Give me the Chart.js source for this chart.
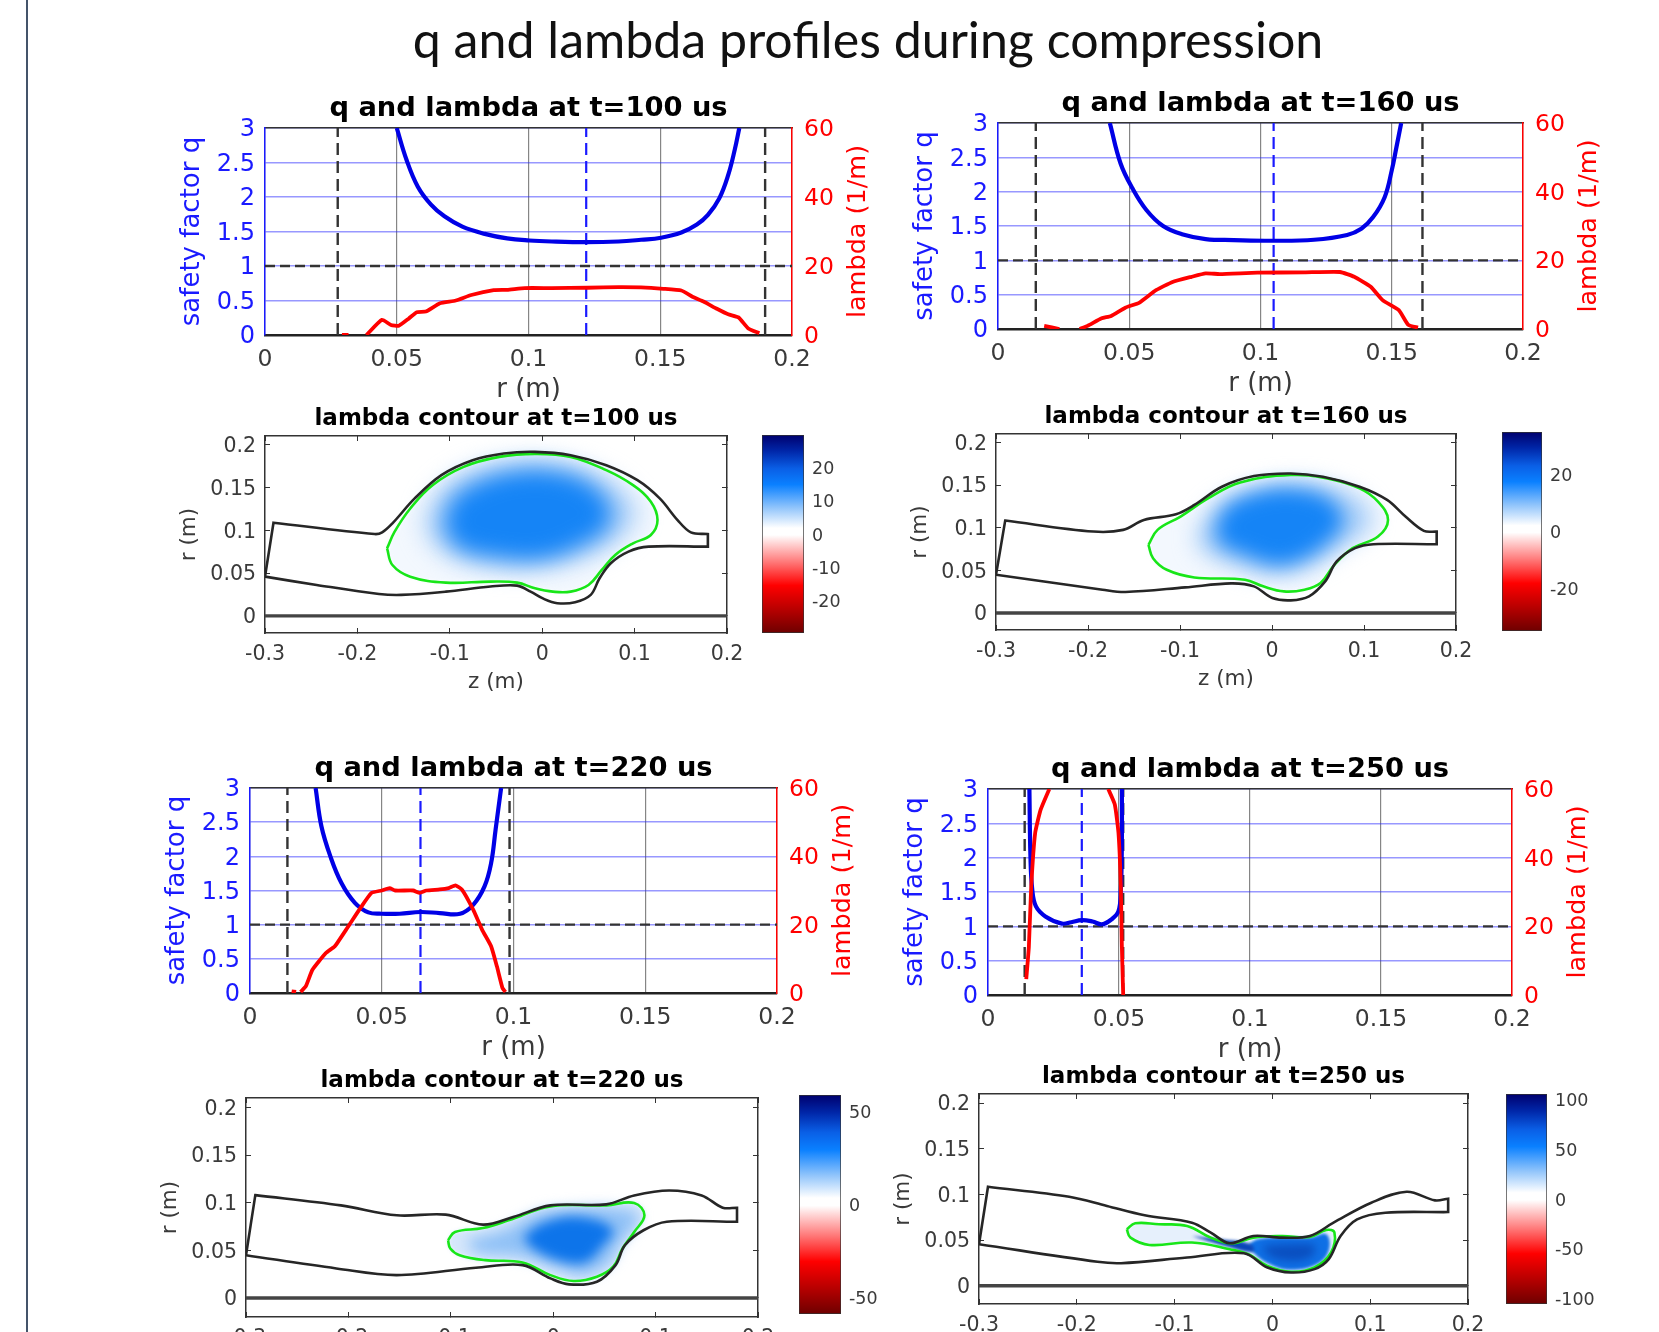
<!DOCTYPE html>
<html>
<head>
<meta charset="utf-8">
<title>q and lambda profiles during compression</title>
<script src="https://cdn.jsdelivr.net/npm/chart.js@4"></script>
<style>
html,body{margin:0;padding:0;background:#fff;width:1659px;height:1332px;overflow:hidden;position:relative}
#rule{position:absolute;left:26px;top:0;width:2px;height:1332px;background:#44546a}
#main{position:absolute;left:0;width:1736px;top:9px;text-align:center;font:50.1px Lato,sans-serif;color:#111;line-height:60px}
canvas{position:absolute;filter:blur(.45px)}
</style>
</head>
<body>
<div id="rule"></div>
<div id="main">q and lambda profiles during compression</div>
<script>
// ---------- tick labels ----------
const rTicks=[0,0.05,0.1,0.15,0.2];
const qTicks=[0,0.5,1,1.5,2,2.5,3];
const lamTicks=[0,20,40,60];
const zTicks=[-0.3,-0.2,-0.1,0,0.1,0.2];
const rzTicks=[0,0.05,0.1,0.15,0.2];
const cbTicks100=[20,10,0,-10,-20];
const cbTicks160=[20,0,-20];
const cbTicks220=[50,0,-50];
const cbTicks250=[100,50,0,-50,-100];
const cbMax100=29.6, cbMax160=35, cbMax220=58.8, cbMax250=106;
const qReference=1;

// ---------- t = 100 us profiles ----------
const qR100=[.05,.0537,.058,.063,.0681,.0749,.0834,.0919,.1003,.1088,.1219,.1342,.1427,.1503,.158,.1639,.1681,.1724,.1758,.1783,.18];
const qV100=[3,2.54,2.15,1.89,1.72,1.57,1.466,1.40,1.37,1.355,1.345,1.355,1.38,1.41,1.485,1.6,1.74,1.98,2.32,2.69,3];
const lamR100=[.0292,.0317,.035,.0385,.0444,.0478,.0508,.0546,.0576,.061,.0664,.0724,.0783,.0868,.0919,.0986,.1088,.1224,.1342,.1427,.1512,.158,.1622,.1664,.1715,.1758,.1797,.1834,.1876];
const lamV100=[0,0,null,0,4.4,2.9,2.7,4.8,6.6,6.8,9.2,10,11.6,13,13.1,13.6,13.6,13.7,13.9,13.8,13.4,12.9,11.1,9.7,7.6,6,5.1,1.9,.5];
const edges100=[.0276,.1898]; const axis100=.1219;
// ---------- t = 160 us profiles ----------
const qR160=[.0426,.0467,.0512,.0566,.0629,.0701,.0791,.0898,.105,.1204,.133,.1384,.1429,.1473,.15,.1518,.1536];
const qV160=[3,2.41,2.05,1.73,1.5,1.38,1.31,1.295,1.285,1.30,1.37,1.46,1.63,1.92,2.31,2.65,3];
const lamR160=[.0176,.0234,.027,.0311,.0341,.0395,.0431,.0485,.0539,.0602,.0665,.0737,.0791,.0845,.0988,.1168,.1303,.1357,.142,.1465,.1527,.1563,.16];
const lamV160=[.9,0,null,0,.9,3.1,3.8,6.2,7.7,11.3,13.7,15.2,16.2,16,16.4,16.5,16.6,15.2,12.3,8.4,5.5,1.2,.4];
const edges160=[.0144,.1617]; const axis160=.105;
// ---------- t = 220 us profiles ----------
const qR220=[.0249,.0271,.0305,.0347,.0398,.0449,.05,.0568,.0647,.072,.0797,.0847,.089,.0915,.0932,.0953];
const qV220=[3,2.44,2,1.61,1.32,1.18,1.16,1.16,1.185,1.17,1.16,1.29,1.56,1.9,2.39,3];
const lamR220=[.0158,.0175,.0183,.0192,.0212,.0237,.0288,.0322,.0373,.0415,.0461,.05,.053,.0551,.0619,.0644,.0669,.072,.0754,.078,.0805,.0847,.0881,.0915,.0937,.0958,.0969];
const lamV220=[.5,.3,null,.3,2,6.8,11.7,13.7,19.5,24.4,29.3,30,30.7,30,30,29.3,30,30.3,30.7,31.5,30.2,24.4,18.5,13.7,7.8,1.5,.3];
const edges220=[.0142,.0985]; const axis220=.0647;
// ---------- t = 250 us profiles ----------
const qR250=[.0158,.0162,.0169,.0183,.0219,.0282,.0318,.0358,.0399,.0435,.0471,.0498,.0507,.0511,.0511];
const qV250=[3,2.02,1.53,1.29,1.145,1.04,1.06,1.09,1.07,1.03,1.1,1.22,1.53,2.26,3];
const lamR250=[.0146,.0156,.0165,.018,.0201,.0234,.035,.0459,.0484,.0498,.0507,.0511,.0516];
const lamV250=[4.6,14.1,31.6,47.2,54,60,null,60,55.5,47.2,31.6,14,0];
const edges250=[.014,.0516]; const axis250=.0358;

// ---------- t = 100 us contour ----------
const wallZ100=[-.3,-.2908,-.1814,-.1732,-.1621,-.138,-.1091,-.0753,-.0416,-.0078,.0308,.0693,.1031,.1272,.1465,.1609,.1793,.1793,.1151,.0934,.0742,.0621,.0525,.0356,.0163,.0018,-.0126,-.0271,-.056,-.1042,-.1525,-.1766,-.2441];
const wallR100=[.0458,.1087,.0955,.0975,.108,.1371,.1643,.1817,.1895,.1915,.1876,.1759,.1584,.1371,.1118,.0975,.0955,.0808,.0808,.075,.0614,.0439,.0245,.0159,.0148,.0198,.0283,.0353,.0342,.0283,.0245,.0256,.0361];
const sepZ100=[-.1679,-.1597,-.1428,-.1187,-.085,-.0464,-.0078,.0308,.0693,.0983,.1176,.1248,.1176,.0983,.079,.0645,.0501,.0308,.0115,-.0078,-.0271,-.056,-.1042,-.1428,-.1621];
const sepR100=[.0788,.0983,.1254,.1526,.174,.1856,.1891,.1856,.1701,.1526,.1332,.1118,.0944,.0847,.0711,.0536,.0361,.0283,.0283,.0322,.0388,.04,.0388,.0458,.0594];
const midZ100=[-.1285,-.1179,-.087,-.0367,.0115,.052,.0878,.1023,.083,.052,.0018,-.056,-.1082];
const midR100=[.1021,.1352,.1644,.1799,.1799,.1683,.145,.1177,.0904,.071,.0573,.0573,.0748];
const coreZ100=[-.1062,-.0966,-.0677,-.0271,.0115,.0472,.0713,.0713,.0472,.0018,-.0512,-.0918];
const coreR100=[.106,.1352,.1566,.1683,.1683,.1566,.1313,.1059,.0855,.067,.0689,.0806];
// ---------- t = 160 us contour ----------
const wallZ160=[-.3,-.29,-.1942,-.1618,-.1393,-.1044,-.0844,-.0545,-.0196,.0204,.0553,.0952,.1251,.1451,.1651,.179,.179,.1102,.0902,.0703,.0578,.0403,.0204,.0004,-.0196,-.0445,-.0944,-.1593,-.1842];
const wallR160=[.0448,.1084,.0955,.0975,.1092,.1158,.1267,.1481,.1606,.1637,.1598,.1481,.1326,.1131,.0963,.0955,.0807,.0807,.076,.0604,.037,.0195,.0148,.0175,.0312,.0347,.03,.0246,.0273];
const sepZ160=[-.1343,-.1244,-.0994,-.0695,-.0345,.0204,.0603,.0952,.1152,.1261,.1152,.0877,.0678,.0528,.0353,.0129,-.0096,-.0295,-.0844,-.1144,-.1293];
const sepR160=[.0799,.0975,.1131,.1345,.1532,.1618,.1579,.1462,.1306,.1092,.0897,.076,.0565,.0351,.0273,.0253,.0312,.039,.0417,.0507,.0643];
const midZ160=[-.0844,-.0645,-.0246,.0204,.0703,.1052,.1052,.0802,.0453,.0054,-.0445,-.0745];
const midR160=[.0877,.1228,.1442,.1532,.1462,.1228,.0994,.0799,.0565,.0448,.0565,.0721];
const coreZ160=[-.0615,-.049,-.0146,.0253,.0623,.0772,.0623,.0353,.0054,-.0295,-.0565];
const coreR160=[.0994,.1248,.1414,.1453,.1336,.1072,.0847,.0642,.0564,.0681,.0818];
// ---------- t = 220 us contour ----------
const wallZ220=[-.3,-.2909,-.2073,-.1527,-.105,-.0686,-.0391,-.0027,.0518,.0791,.1132,.145,.1655,.1795,.1795,.1109,.0882,.07,.0609,.0427,.0155,-.0027,-.03,-.0755,-.1527,-.2118];
const wallR220=[.0449,.108,.0972,.0868,.0875,.077,.085,.0972,.0983,.1077,.1129,.1077,.0948,.0948,.0801,.0801,.0711,.0554,.0345,.0171,.0143,.0206,.0345,.0317,.024,.031];
const sepZ220=[-.1027,-.0959,-.0686,-.0436,-.0027,.0518,.0791,.0891,.0791,.0677,.0586,.0427,.02,-.0027,-.03,-.0664,-.0914,-.1005];
const sepR220=[.0606,.0693,.0735,.0815,.0962,.0972,.0997,.0868,.0693,.0519,.0328,.0223,.0178,.024,.0373,.0397,.0449,.0519];
const midZ220=[-.0845,-.0482,-.0164,.0155,.0655,.0836,.0655,.0541,.0291,.0064,-.03,-.0755];
const midR220=[.0606,.0711,.0885,.0937,.0937,.085,.0571,.0362,.024,.031,.0432,.0484];
const coreZ220=[-.0295,-.0093,.0245,.0581,.047,.0324,.0109,-.0184];
const coreR220=[.0641,.079,.0853,.0721,.0527,.0377,.0377,.0509];
// ---------- t = 250 us contour ----------
const wallZ250=[-.3,-.2908,-.2078,-.1692,-.1306,-.0823,-.063,-.0437,-.0196,.0094,.0383,.0625,.1011,.1373,.1662,.1797,.1797,.1155,.0866,.0697,.0576,.0431,.019,-.0051,-.0292,-.0872,-.1547,-.1789];
const wallR250=[.0455,.1084,.0975,.0873,.0771,.0691,.0582,.0465,.0545,.0527,.0545,.0691,.0909,.1029,.0935,.0953,.0807,.08,.0727,.0545,.0291,.0182,.0145,.02,.0356,.0309,.0247,.0262];
const sepZ250=[-.1489,-.1403,-.1161,-.0872,-.063,-.0413,-.0196,.0094,.0383,.0552,.0634,.06,.0431,.019,-.0051,-.0244,-.0437,-.0823,-.1258,-.1451];
const sepR250=[.0618,.0684,.0673,.0655,.0527,.0462,.0527,.0545,.0535,.0611,.0582,.0364,.02,.0153,.0218,.0345,.04,.0473,.0447,.0527];
const midZ250=[-.0244,-.0148,.0094,.0383,.0552,.0576,.0456,.019,-.0027,-.0196];
const midR250=[.0455,.0509,.0527,.0527,.0564,.0382,.0236,.0175,.0236,.0364];
const coreZ250=[-.0099,.019,.0431,.0383,.0142,-.0051];
const coreR250=[.0436,.0455,.0436,.0309,.0273,.0345];
const neckZ250=[-.0823,-.0485,-.0196,-.022,-.0534];
const neckR250=[.0545,.0436,.0371,.0455,.0509];
const axisZ=[-.3,.2]; const axisR=[0,0];

// ---------- helpers ----------
Chart.defaults.font.family="'DejaVu Sans',sans-serif";
Chart.defaults.animation=false;
const GREY='#3a3a3a';
function xy(xs,ys){return xs.map((x,i)=>({x:x,y:ys[i]}));}
function loop(xs,ys){const p=xy(xs,ys);p.push(p[0]);return p;}
// closed wall outline: the square corners are repeated so that the spline stays sharp there
function wallLoop(xs,ys){
  const top=Math.max.apply(null,xs),out=[];
  xs.forEach((x,i)=>{const pt={x:x,y:ys[i]};out.push(pt);if(i===1||x===top)out.push(pt);});
  const first={x:xs[0],y:ys[0]};out.push(first,first);out.unshift(first);return out;
}
function canvasAt(l,t,w,h){const c=document.createElement('canvas');c.width=w;c.height=h;c.style.left=l+'px';c.style.top=t+'px';c.style.width=w+'px';c.style.height=h+'px';document.body.appendChild(c);return c;}
function fixW(w){return s=>{s.width=w;s.paddingTop=0;s.paddingBottom=0;s.paddingLeft=0;s.paddingRight=0;};}
function fixH(h){return s=>{s.height=h;s.paddingLeft=0;s.paddingRight=0;s.paddingTop=0;s.paddingBottom=0;};}
function setTicks(v){return s=>{s.ticks=v.map(value=>({value}));};}
const lab=v=>String(v);

const rotatedTitle={id:'rotatedTitle',afterDraw(chart,args,o){
  if(!o.text)return;const c=chart.ctx,a=chart.chartArea;c.save();
  c.translate(a.right+o.offset,(a.top+a.bottom)/2);c.rotate(-Math.PI/2);
  c.font=o.font;c.fillStyle=o.color;c.textAlign='center';c.textBaseline='middle';c.fillText(o.text,0,0);c.restore();}};
const softFill={id:'softFill',
  beforeDatasetsDraw(chart){const d=chart.data.datasets;set(chart,d[d.length-1]);},
  afterDatasetDraw(chart,args){set(chart,chart.data.datasets[args.index-1]);},
  afterDatasetsDraw(chart){chart.ctx.filter='none';}};
function set(chart,ds){chart.ctx.filter=ds&&ds.blur?'blur('+ds.blur+'px)':'none';}

function qPanel(p){
  const L=88,R=88,T=35,B=72,w=p.right-p.left,h=p.bottom-p.top;
  const dash=(xs,ys,col,d,wd)=>({data:xy(xs,ys),borderColor:col,borderWidth:wd,borderDash:d,pointRadius:0,showLine:true,tension:0});
  new Chart(canvasAt(p.left-L,p.top-T,w+L+R,h+T+B),{type:'scatter',
    plugins:[rotatedTitle],
    data:{datasets:[
      {data:xy(p.lamR,p.lamV),yAxisID:'y1',borderColor:'#ff0000',borderWidth:3.8,pointRadius:0,showLine:true,tension:.15,spanGaps:false},
      {data:xy(p.qR,p.qV),borderColor:'#0000e6',borderWidth:4.2,pointRadius:0,showLine:true,tension:.4},
      dash([0,.2],[qReference,qReference],'#333',[10,5],2.4),
      dash([p.edges[0],p.edges[0]],[0,3],'#333',[12,6],2.4),
      dash([p.edges[1],p.edges[1]],[0,3],'#333',[12,6],2.4),
      dash([p.axis,p.axis],[0,3],'#1a1aff',[12,6],2.2)
    ]},
    options:{responsive:false,animation:false,
      layout:{padding:0},
      plugins:{legend:{display:false},tooltip:{enabled:false},
        title:{display:true,text:p.title,color:'#000',font:{size:27.3,weight:'bold',lineHeight:1},padding:{top:2,bottom:5.7}},
        rotatedTitle:{text:'lambda (1/m)',offset:66,font:"25.5px 'DejaVu Sans'",color:'#ff0000'}},
      scales:{
        x:{type:'linear',position:'bottom',min:0,max:.2,afterBuildTicks:setTicks(rTicks),afterFit:fixH(B),
          grid:{color:'#858585',lineWidth:1.2,drawTicks:false},border:{color:'#222',width:2.5},
          ticks:{color:GREY,font:{size:23.5},padding:11,callback:lab,autoSkip:false,maxRotation:0},
          title:{display:true,text:'r (m)',color:GREY,font:{size:26},padding:{top:0,bottom:1}}},
        xTop:{type:'linear',position:'top',min:0,max:.2,afterFit:fixH(0),
          grid:{display:false},border:{color:'#333',width:1.5},ticks:{display:false}},
        y:{type:'linear',position:'left',min:0,max:3,afterBuildTicks:setTicks(qTicks),afterFit:fixW(L),
          grid:{color:'rgba(40,40,255,.48)',lineWidth:1.5,drawTicks:false},border:{color:'#1a1aff',width:1.5},
          ticks:{color:'#1a1aff',font:{size:24},padding:10,labelOffset:2,callback:lab,autoSkip:false},
          title:{display:true,text:'safety factor q',color:'#1a1aff',font:{size:26},padding:0}},
        y1:{type:'linear',position:'right',min:0,max:60,afterBuildTicks:setTicks(lamTicks),afterFit:fixW(R),
          grid:{drawOnChartArea:false,drawTicks:false},border:{color:'#ff0000',width:1.5},
          ticks:{color:'#ff0000',font:{size:23.5},padding:12,labelOffset:2,callback:lab,autoSkip:false}}
      }}});
}

function contourPanel(p){
  const L=88,R=88,T=30,B=62,w=p.right-p.left,h=p.bottom-p.top;
  const line=(pts,col,wd,ten)=>({data:pts,borderColor:col,borderWidth:wd,pointRadius:0,showLine:true,tension:ten});
  const blob=(pts,col,bl)=>({data:pts,backgroundColor:col,borderWidth:0,fill:'shape',blur:bl,pointRadius:0,showLine:true,tension:.4});
  const sets=[line(wallLoop(p.wallZ,p.wallR),'#262626',2.6,.35),line(loop(p.sepZ,p.sepR),'#18e618',2.6,.4)];
  p.layers.forEach(l=>sets.push(blob(loop(l.z,l.r),l.color,l.blur)));
  sets.push(line(xy(axisZ,axisR),'#444',3.4,0));
  const frame={color:'#333',drawOnChartArea:false,tickLength:-5};
  new Chart(canvasAt(p.left-L,p.top-T,w+L+R,h+T+B),{type:'scatter',
    plugins:[softFill],
    data:{datasets:sets},
    options:{responsive:false,animation:false,layout:{padding:0},
      plugins:{legend:{display:false},tooltip:{enabled:false},
        title:{display:true,text:p.title,color:'#000',font:{size:23,weight:'bold',lineHeight:1},padding:{top:2,bottom:5}}},
      scales:{
        x:{type:'linear',position:'bottom',min:-.3,max:.2,afterBuildTicks:setTicks(zTicks),afterFit:fixH(B),
          grid:frame,border:{color:'#333',width:1.5},
          ticks:{color:GREY,font:{size:20.5},padding:14,callback:lab,autoSkip:false,maxRotation:0},
          title:{display:p.axisTitle,text:'z (m)',color:GREY,font:{size:21.5},padding:0}},
        xTop:{type:'linear',position:'top',min:-.3,max:.2,afterBuildTicks:setTicks(zTicks),afterFit:fixH(0),
          grid:frame,border:{color:'#333',width:1.5},ticks:{display:false}},
        y:{type:'linear',position:'left',min:-.02,max:.21,afterBuildTicks:setTicks(rzTicks),afterFit:fixW(L),
          grid:frame,border:{color:'#333',width:1.5},
          ticks:{color:GREY,font:{size:20.5},padding:14,labelOffset:2,callback:lab,autoSkip:false},
          title:{display:true,text:'r (m)',color:GREY,font:{size:21.5},padding:0}},
        yRight:{type:'linear',position:'right',min:-.02,max:.21,afterBuildTicks:setTicks(rzTicks),afterFit:fixW(R),
          grid:frame,border:{color:'#333',width:1.5},ticks:{display:false}}
      }}});
}

function colorbar(p){
  const pad=12,R=62,w=p.right-p.left,h=p.bottom-p.top;
  const fill=ctx=>{const a=ctx.chart.chartArea;if(!a)return '#fff';
    const g=ctx.chart.ctx.createLinearGradient(0,a.top,0,a.bottom);
    [[0,'#00006e'],[.08,'#0026a8'],[.17,'#0a5fe6'],[.25,'#0a80ff'],[.37,'#94c6fb'],[.47,'#ffffff'],[.505,'#ffffff'],[.54,'#ffdcdc'],[.64,'#ff7a7a'],[.76,'#ff0000'],[.88,'#b80000'],[1,'#6e0000']].forEach(s=>g.addColorStop(s[0],s[1]));
    return g;};
  new Chart(canvasAt(p.left-1,p.top-pad,w+R+1,h+2*pad),{type:'bar',
    data:{labels:['lambda'],datasets:[{data:[[-p.max,p.max]],backgroundColor:fill,borderWidth:1,borderColor:'#333',borderSkipped:false,barPercentage:1,categoryPercentage:1}]},
    options:{responsive:false,animation:false,layout:{padding:{top:pad,bottom:pad,left:1}},
      plugins:{legend:{display:false},tooltip:{enabled:false},title:{display:false}},
      scales:{x:{display:false,grid:{display:false}},
        y:{position:'right',min:-p.max,max:p.max,afterBuildTicks:setTicks(p.ticks),afterFit:fixW(R),
          grid:{drawOnChartArea:false,drawTicks:false},border:{display:false},
          ticks:{color:GREY,font:{size:17.5},padding:8,labelOffset:2,callback:lab,autoSkip:false}}}}});
}

// ---------- panels ----------
qPanel({title:'q and lambda at t=100 us',left:265,right:792,top:128,bottom:335,qR:qR100,qV:qV100,lamR:lamR100,lamV:lamV100,edges:edges100,axis:axis100});
qPanel({title:'q and lambda at t=160 us',left:998,right:1523,top:123,bottom:329,qR:qR160,qV:qV160,lamR:lamR160,lamV:lamV160,edges:edges160,axis:axis160});
qPanel({title:'q and lambda at t=220 us',left:250,right:777,top:788,bottom:993,qR:qR220,qV:qV220,lamR:lamR220,lamV:lamV220,edges:edges220,axis:axis220});
qPanel({title:'q and lambda at t=250 us',left:988,right:1512,top:789,bottom:995,qR:qR250,qV:qV250,lamR:lamR250,lamV:lamV250,edges:edges250,axis:axis250});

contourPanel({title:'lambda contour at t=100 us',axisTitle:true,left:265,right:727,top:436,bottom:633,wallZ:wallZ100,wallR:wallR100,sepZ:sepZ100,sepR:sepR100,
  layers:[{z:coreZ100,r:coreR100,color:'#1584f6',blur:11},{z:midZ100,r:midR100,color:'#a6cdf8',blur:12},{z:sepZ100,r:sepR100,color:'#f3f8fe',blur:2}]});
contourPanel({title:'lambda contour at t=160 us',axisTitle:true,left:996,right:1456,top:434,bottom:630,wallZ:wallZ160,wallR:wallR160,sepZ:sepZ160,sepR:sepR160,
  layers:[{z:coreZ160,r:coreR160,color:'#1584f6',blur:10},{z:midZ160,r:midR160,color:'#a6cdf8',blur:11},{z:sepZ160,r:sepR160,color:'#f3f8fe',blur:2}]});
contourPanel({title:'lambda contour at t=220 us',axisTitle:false,left:246,right:758,top:1098,bottom:1317,wallZ:wallZ220,wallR:wallR220,sepZ:sepZ220,sepR:sepR220,
  layers:[{z:coreZ220,r:coreR220,color:'#0d74ea',blur:6},{z:midZ220,r:midR220,color:'#90c1f6',blur:7},{z:sepZ220,r:sepR220,color:'#d6e7fb',blur:2}]});
contourPanel({title:'lambda contour at t=250 us',axisTitle:false,left:979,right:1468,top:1094,bottom:1304,wallZ:wallZ250,wallR:wallR250,sepZ:sepZ250,sepR:sepR250,
  layers:[{z:coreZ250,r:coreR250,color:'#0a4fc0',blur:4},{z:neckZ250,r:neckR250,color:'#0a46b8',blur:1.5},{z:midZ250,r:midR250,color:'#0f70e6',blur:1.5},{z:sepZ250,r:sepR250,color:'#e6f0fc',blur:1.5}]});

colorbar({left:762,right:804,top:435,bottom:633,max:cbMax100,ticks:cbTicks100});
colorbar({left:1502,right:1542,top:432,bottom:631,max:cbMax160,ticks:cbTicks160});
colorbar({left:799,right:841,top:1095,bottom:1314,max:cbMax220,ticks:cbTicks220});
colorbar({left:1506,right:1547,top:1094,bottom:1304,max:cbMax250,ticks:cbTicks250});
</script>
</body>
</html>
